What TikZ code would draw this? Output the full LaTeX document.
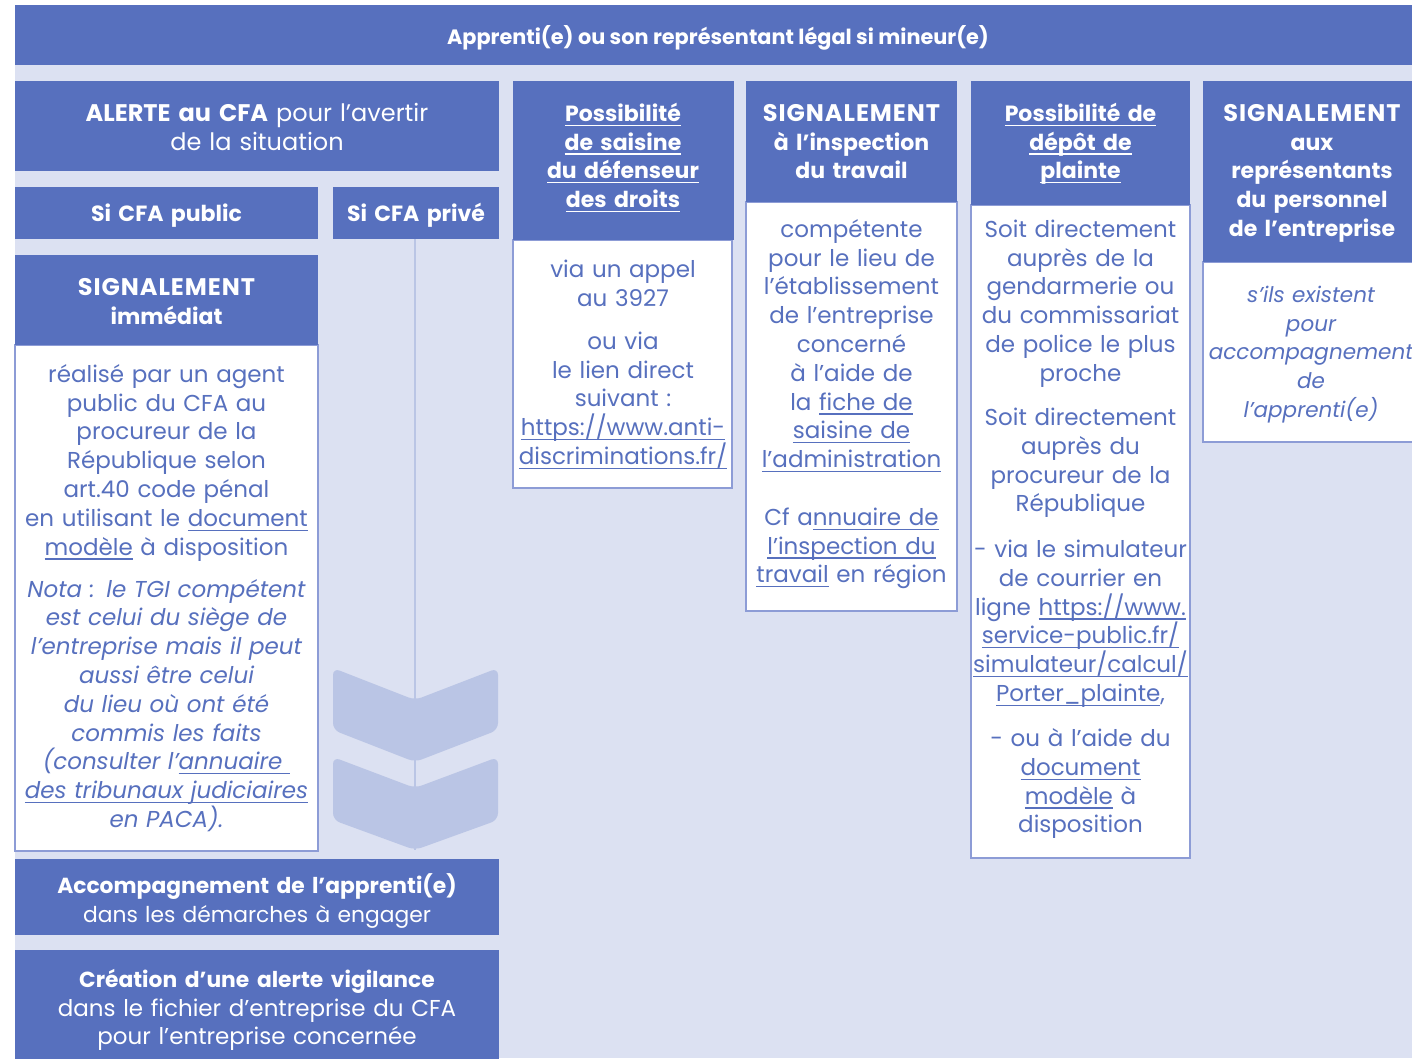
\documentclass[tikz,border=0pt]{standalone}
\usepackage{fontspec}
\setmainfont{Poppins}
\definecolor{hdr}{HTML}{5770BE}
\definecolor{bgl}{HTML}{DCE1F2}
\definecolor{chev}{HTML}{BAC5E5}
\definecolor{bord}{HTML}{8D9CD6}
\definecolor{txt}{HTML}{5770BE}
\newsavebox\ulbox
\newcommand\ulx[1]{\leavevmode\sbox\ulbox{#1}\rlap{\rule[-4.6pt]{\wd\ulbox}{1.3pt}}\usebox\ulbox}
\newcommand\fst{\rule{0pt}{22pt}}
\newcommand\bsz{\fontsize{23}{28.8}\selectfont}
\newcommand\hsz{\fontsize{22}{28.8}\selectfont\bfseries}
\newcommand\sigw{{\fontsize{24}{28.8}\selectfont\bfseries\addfontfeature{LetterSpace=4}SIGNALEMENT}}
\tikzset{
  hfill/.style={fill=hdr},
  wfill/.style={fill=white, draw=bord, line width=1.4pt},
  tw/.style={anchor=north, inner sep=0pt, align=center, text width=480pt, text=white, font=\hsz},
  tb/.style={tw, text=txt, font=\bsz},
  chevron/.style={fill=chev, rounded corners=7pt},
}
\begin{document}
\begin{tikzpicture}[x=1pt,y=-1pt]
\useasboundingbox (0,0) rectangle (1412,1058);
\fill[white] (0,0) rectangle (1412,1058);
\fill[bgl] (15,5) rectangle (1412,1058);
% top band
\fill[hfill] (15,5) rectangle (1420,65);
\node[anchor=base, inner sep=0pt, text=white, font=\fontsize{20.8}{26}\selectfont\bfseries] (top) at (718,44) {Apprenti(e) ou son représentant légal si mineur(e)};
% left column
\fill[hfill] (15,81) rectangle (499,171);
\node[tw, font=\fontsize{24}{28.8}\selectfont] (alerte) at (257,99) {\fst\textbf{ALERTE au CFA} pour l’avertir\\de la situation};
\fill[hfill] (15,187) rectangle (318,239);
\node[tw] (pub) at (166.5,199) {\fst Si CFA public};
\fill[hfill] (333,187) rectangle (499,239);
\node[tw] (priv) at (416,199) {\fst Si CFA privé};
\coordinate (privbot) at (415,239);
\coordinate (privend) at (415,850);
\draw[chev, line width=2pt] (privbot) -- (privend);
\fill[chevron] (333,668) -- (415,700) -- (498,668) -- (498,730) -- (415,762) -- (333,730) -- cycle;
\fill[chevron] (333,757) -- (415,788) -- (498,757) -- (498,820) -- (415,850) -- (333,820) -- cycle;
\draw[wfill] (15,345) rectangle (318,851);
\fill[hfill] (15,255) rectangle (318,345);
\node[tw] (sigimm) at (166.5,273) {\fst\sigw\\immédiat};
\node[tb] (leftbody) at (166.5,360) {\fst réalisé par un agent\\public du CFA au\\procureur de la\\République selon\\art.40 code pénal\\en utilisant le \ulx{document}\\\ulx{modèle} à disposition\\[13.2pt]
\itshape Nota : le TGI compétent\\est celui du siège de\\l’entreprise mais il peut\\aussi être celui\\du lieu où ont été\\commis les faits\\(consulter l’\ulx{annuaire\ }\\\ulx{des tribunaux judiciaires}\\en PACA).};
\fill[hfill] (15,859) rectangle (499,935);
\node[tw, font=\fontsize{21.8}{28.8}\selectfont] (accomp) at (257,871) {\fst\textbf{Accompagnement de l’apprenti(e)}\\dans les démarches à engager};
\fill[hfill] (15,950) rectangle (499,1070);
\node[tw, font=\bsz] (creation) at (257,965) {\fst{\fontsize{21.8}{28.8}\selectfont\bfseries Création d’une alerte vigilance}\\dans le fichier d’entreprise du CFA\\pour l’entreprise concernée};
% column 2
\draw[wfill] (513,240) rectangle (732,488);
\fill[hfill] (513,81) rectangle (734,240);
\node[tw] (defh) at (623,99) {\fst\ulx{Possibilité}\\\ulx{de saisine}\\\ulx{du défenseur}\\\ulx{des droits}};
\node[tb] (defb) at (623,255) {\fst via un appel\\au 3927\\[14.4pt]ou via\\le lien direct\\suivant :\\\ulx{https://www.anti-}\\\ulx{discriminations.fr/}};
% column 3
\draw[wfill] (746,202) rectangle (957,611);
\fill[hfill] (746,81) rectangle (957,202);
\node[tw] (insph) at (851.5,99) {\fst\sigw\\à l’inspection\\du travail};
\node[tb] (inspb) at (851.5,215) {\fst compétente\\pour le lieu de\\l’établissement\\de l’entreprise\\concerné\\à l’aide de\\la \ulx{fiche de}\\\ulx{saisine de}\\\ulx{l’administration}\\[28.8pt]Cf a\ulx{nnuaire de}\\\ulx{l’inspection du}\\\ulx{travail} en région};
% column 4
\draw[wfill] (971,205) rectangle (1190,858);
\fill[hfill] (971,81) rectangle (1190,205);
\node[tw] (plh) at (1080.5,99) {\fst\ulx{Possibilité de}\\\ulx{dépôt de}\\\ulx{plainte}};
\node[tb] (plb) at (1080.5,215) {\fst Soit directement\\auprès de la\\gendarmerie ou\\du commissariat\\de police le plus\\proche\\[15.4pt]Soit directement\\auprès du\\procureur de la\\République\\[16.8pt]- via le simulateur\\de courrier en\\ligne \ulx{https://www.}\\\ulx{service-public.fr/}\\\ulx{simulateur/calcul/}\\\ulx{Porter\_plainte},\\[16.2pt]- ou à l’aide du\\\ulx{document}\\\ulx{modèle} à\\disposition};
% column 5
\draw[wfill] (1203,262) rectangle (1430,442);
\fill[hfill] (1203,81) rectangle (1430,262);
\node[tw] (reph) at (1312,99) {\fst\sigw\\aux\\représentants\\du personnel\\de l’entreprise};
\node[tb, font=\fontsize{21.5}{28.8}\selectfont] (repb) at (1311,280) {\fst\itshape s’ils existent\\pour\\accompagnement\\de\\l’apprenti(e)};
\end{tikzpicture}
\end{document}
